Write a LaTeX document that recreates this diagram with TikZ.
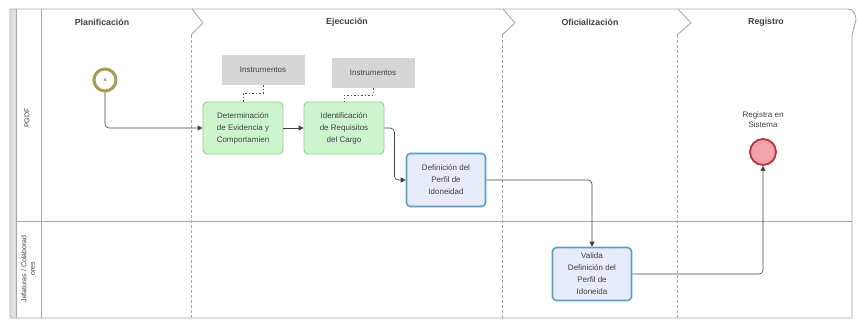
\documentclass[tikz,border=0pt]{standalone}
\usepackage{fontspec}
\setmainfont{Liberation Sans}
\usetikzlibrary{arrows.meta}
\definecolor{frame}{HTML}{A8A8A8}
\definecolor{greenfill}{HTML}{CDF5CD}
\definecolor{greenline}{HTML}{8ED28E}
\definecolor{bluefill}{HTML}{E8ECFA}
\definecolor{blueline}{HTML}{5A9FC8}
\definecolor{redfill}{HTML}{F0A4AA}
\definecolor{redline}{HTML}{C0303C}
\definecolor{olive}{HTML}{A89A50}
\definecolor{instr}{HTML}{D6D6D6}
\definecolor{txt}{HTML}{404040}
\tikzset{
  frameline/.style={draw=frame, line width=0.9pt},
  phasediv/.style={draw=frame, line width=0.9pt, dash pattern=on 3pt off 2pt},
  phaselabel/.style={font=\fontsize{8.8}{10}\selectfont\bfseries, text=txt},
  greentask/.style={draw=greenline, fill=greenfill, line width=0.9pt, rounded corners=4pt,
     minimum width=80pt, minimum height=52pt, align=center, text=txt,
     font=\fontsize{8}{12}\selectfont, inner sep=1pt},
  bluetask/.style={draw=blueline, fill=bluefill, line width=1.6pt, rounded corners=4pt,
     minimum width=79pt, minimum height=53pt, align=center, text=txt,
     font=\fontsize{8}{12}\selectfont, inner sep=1pt},
  instrbox/.style={fill=instr, minimum width=83pt, minimum height=30pt, text=txt,
     font=\fontsize{8}{9}\selectfont},
  flow/.style={draw=black!75, line width=0.6pt, rounded corners=4pt,
     -{Triangle[length=5pt,width=5pt]}},
  assoc/.style={draw=black!70, line width=0.6pt, dash pattern=on 1.5pt off 2pt},
  lanelabel/.style={rotate=90, font=\fontsize{7}{8.5}\selectfont, text=txt, align=center},
}
\begin{document}
\begin{tikzpicture}[x=1pt,y=-1pt]
\useasboundingbox (0,0) rectangle (858,320);
% outer frame
\fill[black!12] (10,9) rectangle (16,318);
\draw[frameline] (10,9) -- (848,9) to[out=0,in=90] (856,20) -- (852,35) -- (852,318) -- (10,318) -- cycle;
\draw[frameline] (16,9) -- (16,318);
\draw[frameline] (41,9) -- (41,318);
\draw[frameline] (16,221) -- (852,221);
% phase dividers
\draw[frameline] (192,9) -- (203,23) -- (191,35);
\draw[phasediv] (191,35) -- (191,318);
\draw[frameline] (503,9) -- (515,23) -- (502,35);
\draw[phasediv] (502,35) -- (502,318);
\draw[frameline] (678,9) -- (691,23) -- (677,35);
\draw[phasediv] (677,35) -- (677,318);
% phase labels
\node[phaselabel] (p1) at (102,22) {Planificación};
\node[phaselabel] (p2) at (347,22) {Ejecución};
\node[phaselabel] (p3) at (590,22) {Oficialización};
\node[phaselabel] (p4) at (766,22) {Registro};
% lane labels
\node[lanelabel] (l1) at (27,118) {PGDF};
\node[lanelabel] (l2) at (28,269) {Jefaturas / Colaborad\\ores};
% start event
\node[circle, draw=olive, line width=3pt, fill=white, minimum size=22pt, inner sep=0pt,
      font=\fontsize{5}{5}\selectfont, text=txt] (start) at (105,80) {a};
% instruments
\node[instrbox] (i1) at (263,70) {Instrumentos};
\node[instrbox] (i2) at (373,73) {Instrumentos};
% tasks
\node[greentask] (t1) at (243,128) {Determinación\\de Evidencia y\\Comportamien};
\node[greentask] (t2) at (344,128) {Identificación\\de Requisitos\\del Cargo};
\node[bluetask] (t3) at (446,180) {Definición del\\Perfil de\\Idoneidad};
\node[bluetask] (t4) at (592,274) {Valida\\Definición del\\Perfil de\\Idoneida};
% end event
\node[circle, draw=redline, line width=1.8pt, fill=redfill, minimum size=26pt, inner sep=0pt] (end) at (763,152) {};
\node[font=\fontsize{8}{10}\selectfont, text=txt, align=center] (endlbl) at (763,120) {Registra en\\Sistema};
% associations
\draw[assoc] (i1.south) -- ++(0,8) -| (t1.north);
\draw[assoc] (i2.south) -- ++(0,7) -| (t2.north);
% flows
\draw[flow] (start.south) |- (t1.west);
\draw[flow] (t1.east) -- (t2.west);
\draw[flow] (t2.east) -- ++(10,0) |- (t3.west);
\draw[flow] (t3.east) -| (t4.north);
\draw[flow] (t4.east) -| (end.south);
\end{tikzpicture}
\end{document}
